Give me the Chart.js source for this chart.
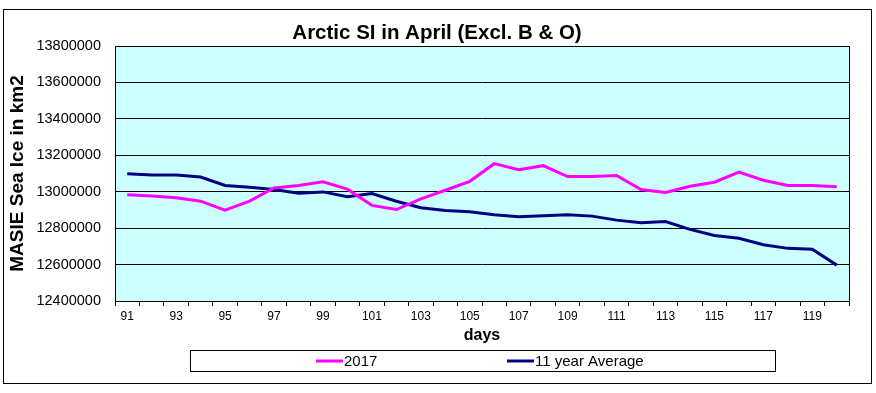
<!DOCTYPE html>
<html>
<head>
<meta charset="utf-8">
<script src="https://cdn.jsdelivr.net/npm/chart.js@4.4.1/dist/chart.umd.min.js"></script>
<style>
  html, body { margin: 0; padding: 0; background: #fff; }
  #wrap { width: 876px; height: 393px; }
</style>
</head>
<body>
<div id="wrap"><canvas id="iceChart" width="876" height="393"></canvas></div>
<script>
const days = [91, 92, 93, 94, 95, 96, 97, 98, 99, 100,
  101, 102, 103, 104, 105, 106, 107, 108, 109, 110,
  111, 112, 113, 114, 115, 116, 117, 118, 119, 120]

const ice2017 = [12984000, 12976000, 12967000, 12948000, 12899000, 12948000, 13021000, 13034000, 13054000, 13014000,
  12925000, 12902000, 12961000, 13008000, 13057000, 13154000, 13121000, 13143000, 13083000, 13083000,
  13089000, 13012000, 12996000, 13030000, 13052000, 13108000, 13063000, 13034000, 13034000, 13027000]

const avg11yr = [13098000, 13092000, 13092000, 13081000, 13034000, 13025000, 13012000, 12992000, 12999000, 12973000,
  12990000, 12948000, 12912000, 12897000, 12890000, 12874000, 12863000, 12868000, 12874000, 12866000,
  12844000, 12829000, 12836000, 12793000, 12760000, 12744000, 12709000, 12689000, 12684000, 12597000]

const yMin = 12400000
const yMax = 13800000
const yStep = 200000

const chartTitle = 'Arctic SI in April (Excl. B & O)'

const FONT = 'Arial, "Liberation Sans", sans-serif'

// plot background, plot frame, outer border, title and the boxed legend
const excelLook = {
  id: 'excelLook',
  beforeDraw(chart) {
    const { ctx, chartArea: a } = chart
    ctx.save()
    ctx.fillStyle = '#fff'
    ctx.fillRect(0, 0, chart.width, chart.height)
    ctx.fillStyle = '#ccffff'
    ctx.fillRect(a.left, a.top, a.right - a.left, a.bottom - a.top)
    ctx.restore()
  },
  afterDraw(chart) {
    const { ctx, chartArea: a } = chart
    ctx.save()
    ctx.strokeStyle = '#000'
    ctx.lineWidth = 1
    ctx.strokeRect(Math.round(a.left) + 0.5, Math.round(a.top) + 0.5,
      Math.round(a.right - a.left), Math.round(a.bottom - a.top))
    ctx.strokeRect(3.5, 9.5, 868, 374)

    // title, centred on the whole picture like the spreadsheet does it
    ctx.fillStyle = '#000'
    ctx.font = 'bold 20.5px ' + FONT
    ctx.textAlign = 'center'
    ctx.textBaseline = 'middle'
    ctx.fillText(chartTitle, 437, 33)

    // legend
    ctx.strokeRect(190.5, 350.5, 585, 21)
    const spots = [316, 507]
    ctx.font = '15px ' + FONT
    ctx.textAlign = 'left'
    chart.data.datasets.forEach((ds, i) => {
      const x = spots[i]
      ctx.strokeStyle = ds.borderColor
      ctx.lineWidth = 3
      ctx.beginPath()
      ctx.moveTo(x, 361)
      ctx.lineTo(x + 27, 361)
      ctx.stroke()
      ctx.fillText(ds.label, x + 28, 361.5)
    })
    ctx.restore()
  }
}

new Chart(document.getElementById('iceChart'), {
  type: 'line',
  data: {
    labels: days,
    datasets: [{
      label: '2017',
      data: ice2017,
      borderColor: '#ff00ff',
      borderWidth: 3,
      pointRadius: 0,
      tension: 0
    }, {
      label: '11 year Average',
      data: avg11yr,
      borderColor: '#000080',
      borderWidth: 3,
      pointRadius: 0,
      tension: 0
    }]
  },
  options: {
    responsive: false,
    animation: false,
    layout: {
      padding: { top: 46, left: 4, right: 27, bottom: 48 }
    },
    plugins: {
      legend: { display: false },
      tooltip: { enabled: false },
      title: { display: false }
    },
    scales: {
      x: {
        offset: true,
        afterFit: (scale) => { scale.height = 44 },
        grid: {
          offset: true,
          drawOnChartArea: false,
          drawTicks: true,
          tickLength: 5,
          color: '#000'
        },
        border: { color: '#000' },
        ticks: {
          autoSkip: false,
          maxRotation: 0,
          padding: 3,
          color: '#000',
          font: { family: FONT, size: 12 },
          callback: function (value, index) {
            return index % 2 === 0 ? this.getLabelForValue(value) : ''
          }
        },
        title: {
          display: true,
          text: 'days',
          color: '#000',
          font: { family: FONT, size: 16, weight: 'bold' },
          padding: { top: 3, bottom: 0 }
        }
      },
      y: {
        min: yMin,
        max: yMax,
        afterFit: (scale) => { scale.width = 111 },
        grid: {
          color: '#000',
          drawTicks: false
        },
        border: { color: '#000' },
        ticks: {
          stepSize: yStep,
          padding: 14,
          color: '#000',
          font: { family: FONT, size: 14.5 },
          callback: (value) => String(value)
        },
        title: {
          display: true,
          text: 'MASIE Sea Ice in km2',
          color: '#000',
          font: { family: FONT, size: 19, weight: 'bold' },
          padding: { top: 2, bottom: 0 }
        }
      }
    }
  },
  plugins: [excelLook]
})
</script>
</body>
</html>
